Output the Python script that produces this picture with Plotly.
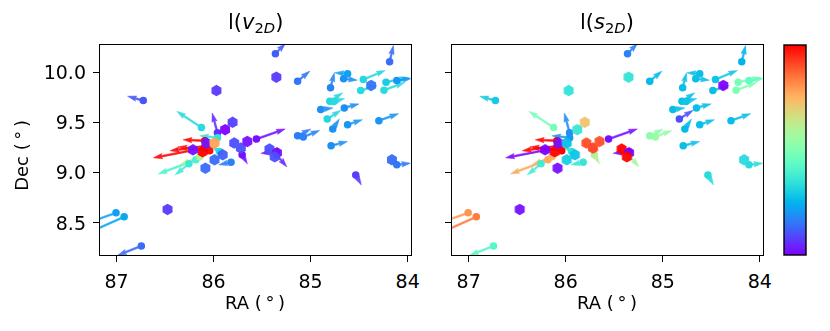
import numpy as np
import plotly.graph_objects as go

# star positions (deg), proper-motion style vectors (deg), colour values per panel
ra = [86.724, 85.970, 86.125, 85.960, 85.804, 85.881, 85.558, 85.787, 85.719, 85.652,
      85.706, 85.424, 85.347, 85.370, 85.350, 85.350, 86.091, 86.071, 86.091, 86.040,
      86.112, 86.212, 86.074, 85.990, 85.939, 85.906, 85.959, 86.084, 85.820, 85.990,
      86.183, 86.254, 86.142, 87.005, 86.921, 86.744, 86.474,
      85.363, 85.353, 85.134, 84.186, 84.795, 84.660, 84.619, 84.457, 84.376, 84.484,
      84.244, 84.223, 84.112, 84.802, 84.761, 84.896, 84.653, 84.829, 84.772, 84.619,
      84.297, 85.134, 85.076, 84.789, 84.162, 84.112, 84.535]
dec = [9.717, 9.817, 9.450, 9.397, 9.500, 9.427, 9.334, 9.294, 9.244, 9.310,
       9.177, 9.234, 9.197, 9.157, 9.177, 9.207, 9.247, 9.267, 9.317, 9.217,
       9.207, 9.227, 9.294, 9.294, 9.210, 9.177, 9.347, 9.044, 9.104, 9.127,
       9.127, 9.087, 9.157, 8.600, 8.560, 8.270, 8.634,
       10.184, 9.950, 9.910, 10.104, 9.844, 9.934, 9.984, 9.927, 9.867, 9.817,
       9.820, 9.900, 9.917, 9.710, 9.707, 9.627, 9.644, 9.534, 9.434, 9.477,
       9.517, 9.367, 9.354, 9.267, 9.127, 9.077, 8.977]
d_ra = [0.162, 0.0, 0.254, 0.054, 0.0, 0.0, -0.296, 0.0, 0.0, 0.0,
        -0.054, 0.0, 0.0, 0.0, -0.105, 0.162, 0.528, 0.376, 0.223, 0.325,
        0.0, 0.0, 0.0, 0.0, 0.080, 0.0, 0.183, 0.0, 0.126, 0.0,
        0.386, 0.142, 0.203, 0.355, 0.389, 0.244, 0.0,
        -0.105, 0.0, -0.126, -0.040, -0.040, -0.142, 0.132, -0.226, 0.0, -0.170,
        -0.213, -0.233, -0.152, -0.132, -0.112, -0.125, -0.152, -0.142, -0.068, -0.152,
        -0.203, -0.136, -0.170, -0.170, 0.0, -0.142, -0.058]
d_dec = [0.043, 0.0, 0.160, 0.197, 0.0, 0.0, 0.101, 0.0, 0.0, 0.0,
         -0.090, 0.0, 0.0, 0.0, -0.120, -0.015, -0.100, -0.050, 0.010, 0.040,
         0.0, 0.0, 0.0, 0.0, 0.050, 0.0, 0.020, 0.0, -0.027, 0.0,
         -0.140, -0.110, -0.080, -0.123, -0.168, -0.093, 0.0,
         0.103, 0.0, 0.100, 0.163, 0.150, -0.014, 0.010, 0.090, 0.0, 0.050,
         0.077, 0.047, 0.020, 0.084, 0.030, 0.017, 0.040, 0.086, 0.100, 0.050,
         0.070, 0.067, 0.066, 0.043, 0.0, 0.017, -0.100]
l_v2d = [0.11, 0.07, 0.33, 0.06, 0.08, 0.00, 0.02, 0.10, 0.10, 0.02,
         0.02, 0.10, 0.02, 0.10, 0.05, 0.02, 1.00, 1.00, 1.00, 0.98,
         1.00, 0.02, 0.03, 0.78, 0.33, 0.12, 0.35, 0.14, 0.17, 0.14,
         0.40, 0.37, 0.60, 0.22, 0.23, 0.14, 0.07,
         0.12, 0.07, 0.15, 0.14, 0.17, 0.19, 0.22, 0.32, 0.15, 0.33,
         0.33, 0.30, 0.20, 0.32, 0.33, 0.19, 0.19, 0.32, 0.19, 0.20,
         0.20, 0.16, 0.17, 0.19, 0.14, 0.16, 0.08]
l_s2d = [0.29, 0.35, 0.48, 0.19, 0.72, 0.36, 0.02, 0.90, 0.92, 0.90,
         0.60, 1.00, 0.00, 1.00, 0.58, 0.02, 0.00, 1.00, 1.00, 1.00,
         1.00, 0.00, 0.02, 0.27, 0.35, 0.28, 0.20, 0.02, 0.36, 0.30,
         0.77, 0.38, 0.75, 0.80, 0.84, 0.42, 0.02,
         0.17, 0.35, 0.26, 0.25, 0.27, 0.27, 0.27, 0.28, 0.00, 0.27,
         0.50, 0.48, 0.45, 0.27, 0.28, 0.27, 0.27, 0.10, 0.26, 0.27,
         0.27, 0.52, 0.55, 0.27, 0.33, 0.33, 0.33]

x_ticks = [84, 85, 86, 87]
y_ticks = [8.5, 9.0, 9.5, 10.0]
RA_RANGE = [87.17, 83.97]
DEC_RANGE = [8.18, 10.27]

W, H = 830, 331
OFF = 8                          # page body margin
PX = [(101, 415), (457, 771)]   # panel x extents on screen
PY = (45, 255)
SHAFT = 1.8
FONT = "DejaVu Sans"


def fx(p):
    return (p - OFF) / W


def fy(p):
    return 1 - (p - OFF) / H


def rainbow(t):
    r = min(1.0, abs(2 * t - 0.5))
    g = max(0.0, np.sin(np.pi * t))
    b = max(0.0, np.cos(np.pi * t / 2))
    return "rgb(%d,%d,%d)" % (round(r * 255), round(g * 255), round(b * 255))


def arrow_poly(x, y, u, v, pw, ph):
    # quiver-like arrow built in pixel space, returned in data coords
    sx = pw / (RA_RANGE[1] - RA_RANGE[0])
    sy = ph / (DEC_RANGE[1] - DEC_RANGE[0])
    dx, dy = u * sx, v * sy
    L = np.hypot(dx, dy) / SHAFT
    hl, hal, hw = 5.0, 4.5, 3.0
    k = min(1.0, L / hl)
    px = np.array([0, L - hal * k, L - hl * k, L, L - hl * k, L - hal * k, 0, 0])
    py = np.array([-0.5, -0.5, -hw / 2, 0, hw / 2, 0.5, 0.5, -0.5]) * k
    th = np.arctan2(dy, dx)
    rx = (px * np.cos(th) - py * np.sin(th)) * SHAFT
    ry = (px * np.sin(th) + py * np.cos(th)) * SHAFT
    return x + rx / sx, y + ry / sy


cscale = [[i / 20, rainbow(i / 20)] for i in range(21)]
fig = go.Figure()

for p, cvals in enumerate([l_v2d, l_s2d]):
    xa = "x" if p == 0 else "x2"
    ya = "y" if p == 0 else "y2"
    pw = PX[p][1] - PX[p][0]
    ph = PY[1] - PY[0]
    dots_x, dots_y, dots_c = [], [], []
    hex_x, hex_y, hex_c = [], [], []
    for i in range(len(ra)):
        if d_ra[i] == 0 and d_dec[i] == 0:
            hex_x.append(ra[i]); hex_y.append(dec[i]); hex_c.append(cvals[i])
            continue
        ax_, ay_ = arrow_poly(ra[i], dec[i], d_ra[i], d_dec[i], pw, ph)
        col = rainbow(cvals[i])
        fig.add_trace(go.Scatter(x=ax_, y=ay_, mode="lines", fill="toself",
                                 fillcolor=col, line=dict(color=col, width=0.5),
                                 opacity=0.9, hoverinfo="skip", showlegend=False,
                                 xaxis=xa, yaxis=ya))
        dots_x.append(ra[i]); dots_y.append(dec[i]); dots_c.append(cvals[i])
    fig.add_trace(go.Scatter(x=dots_x, y=dots_y, mode="markers",
                             marker=dict(size=7.5, color=dots_c, coloraxis="coloraxis",
                                         line=dict(width=0)),
                             showlegend=False, xaxis=xa, yaxis=ya))
    fig.add_trace(go.Scatter(x=hex_x, y=hex_y, mode="markers",
                             marker=dict(size=11.5, symbol="hexagon", color=hex_c,
                                         coloraxis="coloraxis", line=dict(width=0)),
                             opacity=0.95, showlegend=False, xaxis=xa, yaxis=ya))

axis_common = dict(showline=True, mirror=True, linecolor="black", linewidth=1.4,
                   ticks="outside", ticklen=6, tickwidth=1.4, tickcolor="black",
                   showgrid=False, zeroline=False, ticklabelstandoff=3,
                   tickfont=dict(family=FONT, size=19, color="black"))

fig.update_layout(
    width=W, height=H, margin=dict(l=0, r=0, t=0, b=0),
    paper_bgcolor="white", plot_bgcolor="white",
    xaxis=dict(domain=[fx(PX[0][0]), fx(PX[0][1])], range=RA_RANGE, tickvals=x_ticks,
               anchor="y", **axis_common),
    xaxis2=dict(domain=[fx(PX[1][0]), fx(PX[1][1])], range=RA_RANGE, tickvals=x_ticks,
                anchor="y2", **axis_common),
    yaxis=dict(domain=[fy(PY[1]), fy(PY[0])], range=DEC_RANGE, tickvals=y_ticks,
               tickformat=".1f", anchor="x", **axis_common),
    yaxis2=dict(domain=[fy(PY[1]), fy(PY[0])], range=DEC_RANGE, tickvals=y_ticks,
                showticklabels=False, anchor="x2", **axis_common),
    coloraxis=dict(colorscale=cscale, cmin=0, cmax=1,
                   colorbar=dict(x=fx(793), xanchor="left", xpad=0, ypad=0,
                                 y=fy((PY[0] + PY[1]) / 2), yanchor="middle",
                                 thickness=22, len=PY[1] - PY[0], lenmode="pixels",
                                 outlinewidth=1.4, outlinecolor="black",
                                 showticklabels=False, ticks="")),
)

titles = ["l(<i>v</i><sub>2<i>D</i></sub>)", "l(<i>s</i><sub>2<i>D</i></sub>)"]
for p in range(2):
    cx = fx((PX[p][0] + PX[p][1]) / 2)
    fig.add_annotation(text=titles[p], x=cx, y=1.0, xref="paper", yref="paper",
                       xanchor="center", yanchor="top", showarrow=False,
                       font=dict(family=FONT, size=21, color="black"))
    fig.add_annotation(text="RA (\u2009°\u2009)", x=cx, y=fy(302), xref="paper",
                       yref="paper", xanchor="center", yanchor="middle", showarrow=False,
                       font=dict(family=FONT, size=18, color="black"))
fig.add_annotation(text="Dec (\u2009°\u2009)", x=fx(21), y=fy(155), xref="paper",
                   yref="paper", xanchor="center", yanchor="middle", showarrow=False,
                   textangle=-90, font=dict(family=FONT, size=18, color="black"))

fig.write_html("out.html")
